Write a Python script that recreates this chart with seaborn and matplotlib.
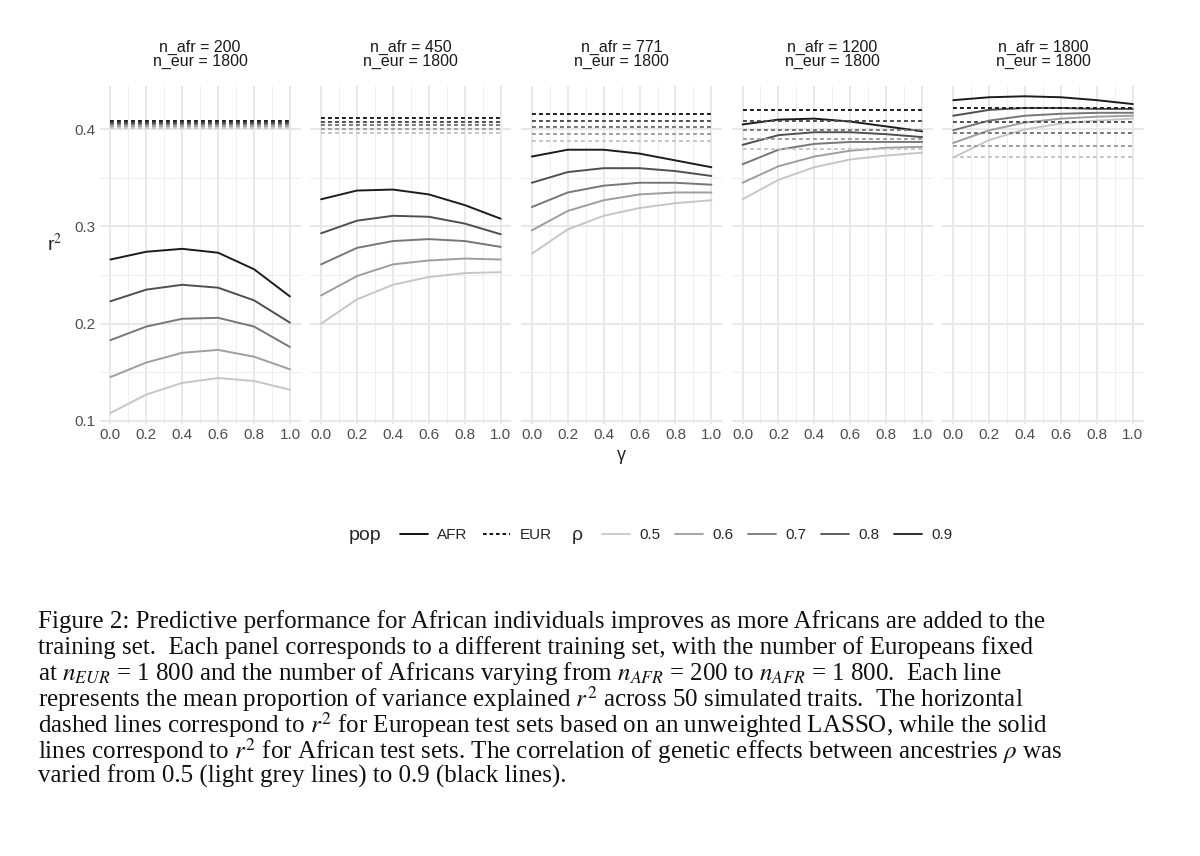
import numpy as np
import pandas as pd
import matplotlib
matplotlib.use("Agg")
import matplotlib.pyplot as plt
from matplotlib.lines import Line2D
from matplotlib.offsetbox import HPacker
import seaborn as sns

# 数据：每个面板、每个 rho 的 r^2（gamma = 0, 0.2, ..., 1.0）
gammas = [0.0, 0.2, 0.4, 0.6, 0.8, 1.0]
rhos = [0.5, 0.6, 0.7, 0.8, 0.9]
n_afr = [200, 450, 771, 1200, 1800]

afr_r2 = {
    200: [[0.108, 0.127, 0.139, 0.144, 0.141, 0.132],
          [0.145, 0.160, 0.170, 0.173, 0.166, 0.153],
          [0.183, 0.197, 0.205, 0.206, 0.197, 0.176],
          [0.223, 0.235, 0.240, 0.237, 0.224, 0.201],
          [0.266, 0.274, 0.277, 0.273, 0.256, 0.228]],
    450: [[0.200, 0.225, 0.240, 0.248, 0.252, 0.253],
          [0.229, 0.249, 0.261, 0.265, 0.267, 0.266],
          [0.261, 0.278, 0.285, 0.287, 0.285, 0.279],
          [0.293, 0.306, 0.311, 0.310, 0.303, 0.292],
          [0.328, 0.337, 0.338, 0.333, 0.322, 0.308]],
    771: [[0.272, 0.297, 0.311, 0.319, 0.324, 0.327],
          [0.296, 0.316, 0.327, 0.333, 0.335, 0.335],
          [0.320, 0.335, 0.342, 0.345, 0.345, 0.343],
          [0.345, 0.356, 0.360, 0.360, 0.357, 0.352],
          [0.372, 0.379, 0.379, 0.375, 0.368, 0.361]],
    1200: [[0.328, 0.348, 0.361, 0.369, 0.373, 0.376],
           [0.345, 0.362, 0.372, 0.378, 0.381, 0.382],
           [0.364, 0.379, 0.385, 0.387, 0.387, 0.387],
           [0.384, 0.394, 0.397, 0.397, 0.395, 0.392],
           [0.405, 0.410, 0.411, 0.408, 0.403, 0.398]],
    1800: [[0.371, 0.389, 0.400, 0.406, 0.409, 0.411],
           [0.386, 0.399, 0.407, 0.411, 0.413, 0.414],
           [0.399, 0.409, 0.414, 0.416, 0.417, 0.417],
           [0.414, 0.420, 0.422, 0.422, 0.421, 0.421],
           [0.430, 0.433, 0.434, 0.433, 0.430, 0.426]],
}
# EUR（无加权 LASSO，水平线）
eur_r2 = {
    200: [0.401, 0.403, 0.405, 0.407, 0.409],
    450: [0.396, 0.400, 0.404, 0.408, 0.412],
    771: [0.388, 0.395, 0.402, 0.409, 0.416],
    1200: [0.380, 0.390, 0.399, 0.409, 0.420],
    1800: [0.371, 0.383, 0.396, 0.408, 0.422],
}

rows = []
for n in n_afr:
    for i, rho in enumerate(rhos):
        for g, v in zip(gammas, afr_r2[n][i]):
            rows.append((n, rho, "AFR", g, v))
        for g in (0.0, 1.0):
            rows.append((n, rho, "EUR", g, eur_r2[n][i]))
df = pd.DataFrame(rows, columns=["n_afr", "rho", "pop", "gamma", "r2"])

sns.set_theme(style="whitegrid")
plt.rcParams["font.family"] = ["Liberation Sans", "DejaVu Sans"]
plt.rcParams["mathtext.fontset"] = "stix"

greys = {0.5: "#c6c6c6", 0.6: "#9e9e9e", 0.7: "#777777", 0.8: "#4f4f4f", 0.9: "#1c1c1c"}

fig = plt.figure(figsize=(12, 8.56), dpi=100)
left, right, bottom, top = 0.083, 0.953, 0.505, 0.9
gap = 0.008
w = (right - left - 4 * gap) / 5
for k, n in enumerate(n_afr):
    ax = fig.add_axes([left + k * (w + gap), bottom, w, top - bottom])
    sub = df[df["n_afr"] == n]
    for pop, ls in (("AFR", "-"), ("EUR", (0, (2, 1.6)))):
        sns.lineplot(data=sub[sub["pop"] == pop], x="gamma", y="r2", hue="rho",
                     palette=greys, ax=ax, legend=False, linewidth=1.4,
                     linestyle=ls)
    ax.set_facecolor("white")
    ax.set_xlim(-0.06, 1.06)
    ax.set_ylim(0.097, 0.445)
    ax.set_xticks(gammas)
    ax.set_xticks(np.arange(0.1, 1.0, 0.2), minor=True)
    ax.set_yticks([0.1, 0.2, 0.3, 0.4])
    ax.set_yticks([0.15, 0.25, 0.35], minor=True)
    ax.grid(True, which="major", color="#e6e6e6", linewidth=1.3)
    ax.grid(True, which="minor", color="#efefef", linewidth=0.8)
    for s in ax.spines.values():
        s.set_visible(False)
    ax.tick_params(axis="both", length=0, labelsize=11, labelcolor="#4d4d4d", pad=3)
    ax.set_xlabel("γ" if k == 2 else "", fontsize=13)
    if k == 0:
        ax.set_ylabel("r$^2$", fontsize=14, rotation=0, labelpad=14)
    else:
        ax.set_ylabel("")
        ax.set_yticklabels([])
    ax.set_title(f"n_afr = {n}\nn_eur = 1800", fontsize=11.5, linespacing=0.95,
                 color="#1a1a1a", pad=14)

# 图例
h_pop = [Line2D([], [], color="black", lw=1.3, ls="-"),
         Line2D([], [], color="black", lw=1.3, ls=(0, (2, 1.6)))]
leg1 = fig.legend(h_pop, ["AFR", "EUR"], title="pop", loc="center",
                  bbox_to_anchor=(0.375, 0.375), ncol=2, frameon=False,
                  fontsize=11, title_fontsize=14, handlelength=1.8,
                  columnspacing=1.0, handletextpad=0.6)
h_rho = [Line2D([], [], color=greys[r], lw=1.3) for r in rhos]
leg2 = fig.legend(h_rho, [str(r) for r in rhos], title="ρ", loc="center",
                  bbox_to_anchor=(0.635, 0.375), ncol=5, frameon=False,
                  fontsize=11, title_fontsize=14, handlelength=1.8,
                  columnspacing=1.0, handletextpad=0.6)
for lg in (leg1, leg2):
    # 标题放在左侧
    box = lg._legend_box
    box._children = [HPacker(children=[box._children[0], box._children[1]],
                             align="center", pad=0, sep=14)]

caption = [
    "Figure 2: Predictive performance for African individuals improves as more Africans are added to the",
    "training set.  Each panel corresponds to a different training set, with the number of Europeans fixed",
    r"at $n_{EUR}$ = 1 800 and the number of Africans varying from $n_{AFR}$ = 200 to $n_{AFR}$ = 1 800.  Each line",
    r"represents the mean proportion of variance explained $r^2$ across 50 simulated traits.  The horizontal",
    r"dashed lines correspond to $r^2$ for European test sets based on an unweighted LASSO, while the solid",
    r"lines correspond to $r^2$ for African test sets. The correlation of genetic effects between ancestries $\rho$ was",
    "varied from 0.5 (light grey lines) to 0.9 (black lines).",
]
y0 = 0.274
for i, line in enumerate(caption):
    fig.text(0.032, y0 - i * 0.0302, line, fontsize=18, family="Liberation Serif",
             va="center", ha="left", color="#111111")

fig.savefig("out.png", dpi=100)
